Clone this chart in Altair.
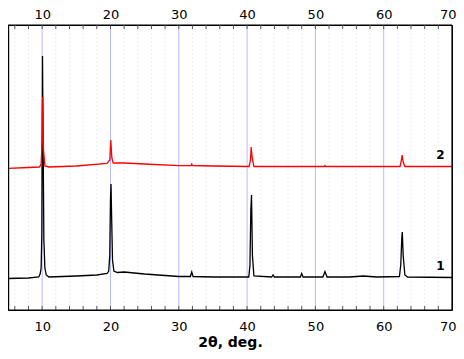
import altair as alt
import pandas as pd

# Curve 1 (black)
x1 = [5.0, 8.0, 9.5, 9.7, 9.85, 9.95, 10.05, 10.15, 10.25, 10.4, 10.6, 11.0, 15.0, 18.0, 19.5,
      19.75, 19.9, 20.0, 20.08, 20.18, 20.3, 20.5, 21.0, 22.0, 25.0, 28.0, 30.0, 31.7, 31.9, 32.1,
      35.0, 40.25, 40.42, 40.55, 40.65, 40.78, 41.0, 43.6, 43.8, 44.0, 47.8, 48.0, 48.2, 51.1,
      51.4, 51.7, 55.0, 57.0, 59.0, 62.3, 62.5, 62.65, 62.72, 62.85, 63.1, 63.5, 70.0]
y1 = [31.5, 32.0, 33.0, 36.0, 42.0, 75.0, 254.0, 160.0, 70.0, 42.0, 35.0, 33.0, 34.0, 35.0, 36.5,
      39.0, 55.0, 110.0, 126.0, 90.0, 50.0, 39.0, 37.5, 38.0, 36.0, 34.5, 33.5, 33.5, 38.0, 33.5,
      33.0, 33.0, 45.0, 100.0, 115.0, 55.0, 34.0, 33.0, 35.0, 33.0, 33.0, 36.5, 33.0, 33.0,
      38.5, 33.0, 33.0, 34.0, 33.0, 33.5, 45.0, 72.0, 78.0, 55.0, 35.0, 33.0, 32.5]

# Curve 2 (red)
x2 = [5.0, 8.0, 9.6, 9.85, 10.0, 10.08, 10.2, 10.4, 11.0, 15.0, 19.5, 19.9, 20.05, 20.2, 20.4,
      22.0, 25.0, 30.0, 31.8, 31.9, 32.0, 35.0, 40.3, 40.5, 40.6, 40.75, 41.0, 45.0, 51.3, 51.4,
      51.5, 55.0, 62.4, 62.6, 62.7, 62.85, 63.1, 70.0]
y2 = [141.7, 142.5, 143.0, 146.0, 170.0, 213.0, 160.0, 144.0, 143.0, 144.0, 146.5, 150.0, 170.0, 152.0, 147.0,
      147.0, 146.0, 144.3, 144.5, 146.0, 144.5, 144.0, 143.5, 150.0, 163.0, 152.0, 143.5, 143.5, 143.5, 144.5,
      143.5, 143.5, 143.5, 150.0, 155.0, 148.0, 143.5, 143.5]

major_ticks = [10, 20, 30, 40, 50, 60, 70]
major_grid = [10, 20, 30, 40, 50, 60]
minor_grid = [6, 8, 12, 14, 16, 18, 22, 24, 26, 28, 32, 34, 36, 38, 42, 44, 46, 48,
              52, 54, 56, 58, 62, 64, 66, 68]
all_ticks = [6, 8, 10, 12, 14, 16, 18, 20, 22, 24, 26, 28, 30, 32, 34, 36, 38, 40, 42, 44, 46,
             48, 50, 52, 54, 56, 58, 60, 62, 64, 66, 68]

label_text = ["1", "2"]
label_x = [68.3, 68.3]
label_y = [43.6, 155.0]

df1 = pd.DataFrame({"x": x1, "y": y1})
df2 = pd.DataFrame({"x": x2, "y": y2})
dmin = pd.DataFrame({"x": minor_grid})
dmaj = pd.DataFrame({"x": major_grid})
dtick = pd.DataFrame({"x": all_ticks})
dlab = pd.DataFrame({"x": label_x, "y": label_y, "t": label_text})
one = pd.DataFrame({"k": [0]})

W = 444
H = 285

xs = alt.Scale(domain=[5, 70], nice=False, zero=False)
ys = alt.Scale(domain=[0, H], nice=False, zero=False)

minor = alt.Chart(dmin).mark_rule(color="#ededed", strokeWidth=1, strokeDash=[2, 2]).encode(
    x=alt.X("x:Q", scale=xs, axis=None))
major = alt.Chart(dmaj).mark_rule(color="#b8b8ff", strokeWidth=1).encode(
    x=alt.X("x:Q", scale=xs, axis=None))

ticks_bottom = alt.Chart(dtick).mark_rule(color="#555555", strokeWidth=1).encode(
    x=alt.X("x:Q", scale=xs, axis=None), y=alt.value(H), y2=alt.value(H - 4))
ticks_top = alt.Chart(dtick).mark_rule(color="#555555", strokeWidth=1).encode(
    x=alt.X("x:Q", scale=xs, axis=None), y=alt.value(0), y2=alt.value(4))

frame_top = alt.Chart(one).mark_rule(color="black", strokeWidth=1.2).encode(
    x=alt.value(0), x2=alt.value(W), y=alt.value(0))
frame_bottom = alt.Chart(one).mark_rule(color="black", strokeWidth=1.2).encode(
    x=alt.value(0), x2=alt.value(W), y=alt.value(H))
frame_left = alt.Chart(one).mark_rule(color="black", strokeWidth=1.2).encode(
    x=alt.value(0.6), y=alt.value(0), y2=alt.value(H))
frame_right = alt.Chart(one).mark_rule(color="black", strokeWidth=1.2).encode(
    x=alt.value(W), y=alt.value(0), y2=alt.value(H))

line1 = alt.Chart(df1).mark_line(color="black", strokeWidth=1.3).encode(
    x=alt.X("x:Q", scale=xs, axis=alt.Axis(
        orient="bottom", values=major_ticks, title="2θ, deg.", ticks=False, domain=False,
        grid=False, labelFontSize=13, labelFont="DejaVu Sans", labelColor="black",
        labelPadding=10, titleFont="DejaVu Sans", titleFontSize=14, titleFontWeight="bold",
        titleColor="black", titlePadding=2, labelFlush=True, labelFlushOffset=4)),
    y=alt.Y("y:Q", scale=ys, axis=None),
    order=alt.Order("x:Q"))

line2 = alt.Chart(df2).mark_line(color="#ff0000", strokeWidth=1.3).encode(
    x=alt.X("x:Q", scale=xs, axis=alt.Axis(
        orient="top", values=major_ticks, title=None, ticks=False, domain=False,
        grid=False, labelFontSize=13, labelFont="DejaVu Sans", labelColor="black",
        labelPadding=4, labelFlush=True, labelFlushOffset=4)),
    y=alt.Y("y:Q", scale=ys, axis=None),
    order=alt.Order("x:Q"))

labels = alt.Chart(dlab).mark_text(font="DejaVu Sans", fontSize=12, fontWeight="bold",
                                   color="black", baseline="middle", align="center").encode(
    x=alt.X("x:Q", scale=xs, axis=None),
    y=alt.Y("y:Q", scale=ys, axis=None),
    text="t:N")

chart = alt.layer(minor, major, ticks_bottom, ticks_top, line1, line2, labels,
                  frame_top, frame_bottom, frame_left, frame_right).resolve_axis(
    x="independent").properties(
    width=W, height=H,
    autosize=alt.AutoSizeParams(type="none"),
    padding={"left": 0, "top": 17, "right": 4, "bottom": 41},
).configure_view(stroke="black", strokeWidth=1)

chart.save("out.html", embed_options={"renderer": "svg", "actions": False})
